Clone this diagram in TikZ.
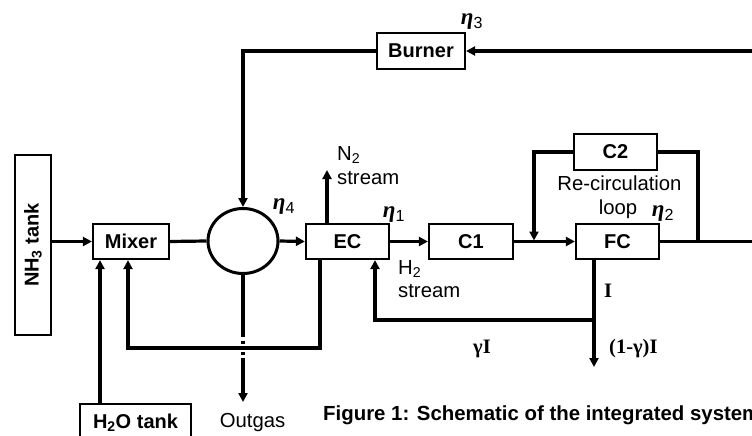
\documentclass[tikz,border=0pt]{standalone}
\usepackage{fontspec}
\setmainfont{Liberation Sans}
\newfontfamily\serifface{Liberation Serif}
\usetikzlibrary{arrows.meta,shapes.geometric}
\newcommand{\etalab}[1]{{\serifface\bfseries\itshape η}\textsubscript{#1}}
\tikzset{
  box/.style={draw, line width=2.2pt, inner sep=0pt, font=\fontsize{20}{24}\selectfont\bfseries},
  flow/.style={line width=3.2pt, -{Triangle[length=9pt,width=9pt]}},
  plain/.style={line width=3.2pt},
  lbl/.style={inner sep=0pt, font=\fontsize{20.3}{24}\selectfont},
  eta/.style={inner sep=0pt, font=\fontsize{23}{26}\selectfont},
  cur/.style={inner sep=0pt, font=\fontsize{20.5}{24}\selectfont\serifface\bfseries},
}
\begin{document}
\begin{tikzpicture}[x=1pt,y=-1pt]
\clip (0,0) rectangle (752,436);
\fill[white] (0,0) rectangle (752,436);
% blocks
\node[box, minimum width=36pt, minimum height=180pt] (nh3) at (33,245) {\rotatebox{90}{NH\textsubscript{3} tank}};
\node[box, minimum width=76pt, minimum height=35pt] (mixer) at (131,241.5) {Mixer};
\node[draw, ellipse, line width=3pt, minimum width=70pt, minimum height=65pt, inner sep=0pt] (ell) at (243,241) {};
\node[box, minimum width=83pt, minimum height=35pt] (ec) at (347.5,241.5) {EC};
\node[box, minimum width=84pt, minimum height=35pt] (c1) at (471,241.5) {C1};
\node[box, minimum width=83pt, minimum height=35pt] (fc) at (617.5,241.5) {FC};
\node[box, minimum width=83pt, minimum height=36pt] (c2) at (615.5,152) {C2};
\node[box, minimum width=88pt, minimum height=36pt] (burner) at (421,51) {Burner};
\node[box, minimum width=111pt, minimum height=50pt, anchor=north] (h2o) at (135.5,403) {};
\node[lbl, font=\fontsize{20}{24}\selectfont\bfseries, anchor=base] (h2otext) at (135.5,428) {H\textsubscript{2}O tank};
% coordinates
\coordinate (outR) at (752,241.5);
\coordinate (inR) at (752,51);
\coordinate (j1) at (534,241.5);
\coordinate (j2) at (698,241.5);
\coordinate (n2end) at (327,170);
\coordinate (j3) at (594,320);
\coordinate (iend) at (594,367);
\coordinate (h2c) at (375,320);
\coordinate (rc1) at (320,348);
\coordinate (rc2) at (128,348);
\coordinate (wx) at (100,0);
\coordinate (og1) at (243,337);
\coordinate (og2) at (243,358);
\coordinate (ogend) at (243,402);
% main line
\draw[flow] (nh3.east |- mixer.west) -- (mixer.west);
\draw[plain] (mixer.east) -- (ell.west);
\draw[flow] (ell.east) -- (ec.west);
\draw[flow] (ec.east) -- (c1.west);
\draw[flow] (c1.east) -- (fc.west);
\draw[plain] (fc.east) -- (outR);
% recirculation loop
\draw[flow, shorten >=1pt] (c2.west) -| (j1);
\draw[plain] (c2.east) -| (j2);
% burner
\draw[flow] (inR) -- (burner.east);
\draw[flow] (burner.west) -| (ell.north);
% N2 stream
\draw[flow] (ec.north -| n2end) -- (n2end);
% FC current
\draw[flow] (fc.south -| j3) -- (iend);
\draw[flow] (j3) -- (h2c) -- (ec.south -| h2c);
% recycle to mixer
\draw[flow] (ec.south -| rc1) |- (rc2) -- (mixer.south -| rc2);
% water
\draw[flow] (h2o.north -| wx) -- (mixer.south -| wx);
% outgas
\draw[plain] (ell.south) -- (og1);
\draw[plain] (243,340.5) -- (243,344);
\draw[plain] (243,351.5) -- (243,355);
\draw[flow] (og2) -- (ogend);
% labels
\node[eta] (e4) at (284,207) {\etalab{4}};
\node[eta] (e1) at (394,215) {\etalab{1}};
\node[eta] (e2) at (663,214) {\etalab{2}};
\node[eta] (e3) at (472,22) {\etalab{3}};
\node[lbl, anchor=base west] (n2a) at (337,160) {N\textsubscript{2}};
\node[lbl, anchor=base west] (n2b) at (337,184) {stream};
\node[lbl, anchor=base west] (h2a) at (398,274) {H\textsubscript{2}};
\node[lbl, anchor=base west] (h2b) at (398,297) {stream};
\node[lbl, anchor=base] (rca) at (619.5,190) {Re-circulation};
\node[lbl, anchor=base] (rcb) at (618,214) {loop};
\node[cur, anchor=base west] (ilab) at (604,297) {I};
\node[cur, anchor=base west] (gilab) at (473,353) {γI};
\node[cur, anchor=base west] (ogilab) at (609,353) {(1-γ)I};
\node[lbl, anchor=base] (outgas) at (252.5,427) {Outgas};
\node[lbl, font=\fontsize{20.4}{24}\selectfont\bfseries, anchor=base west] (cap) at (323,420) {Figure 1: Schematic of the integrated system};
\end{tikzpicture}
\end{document}
